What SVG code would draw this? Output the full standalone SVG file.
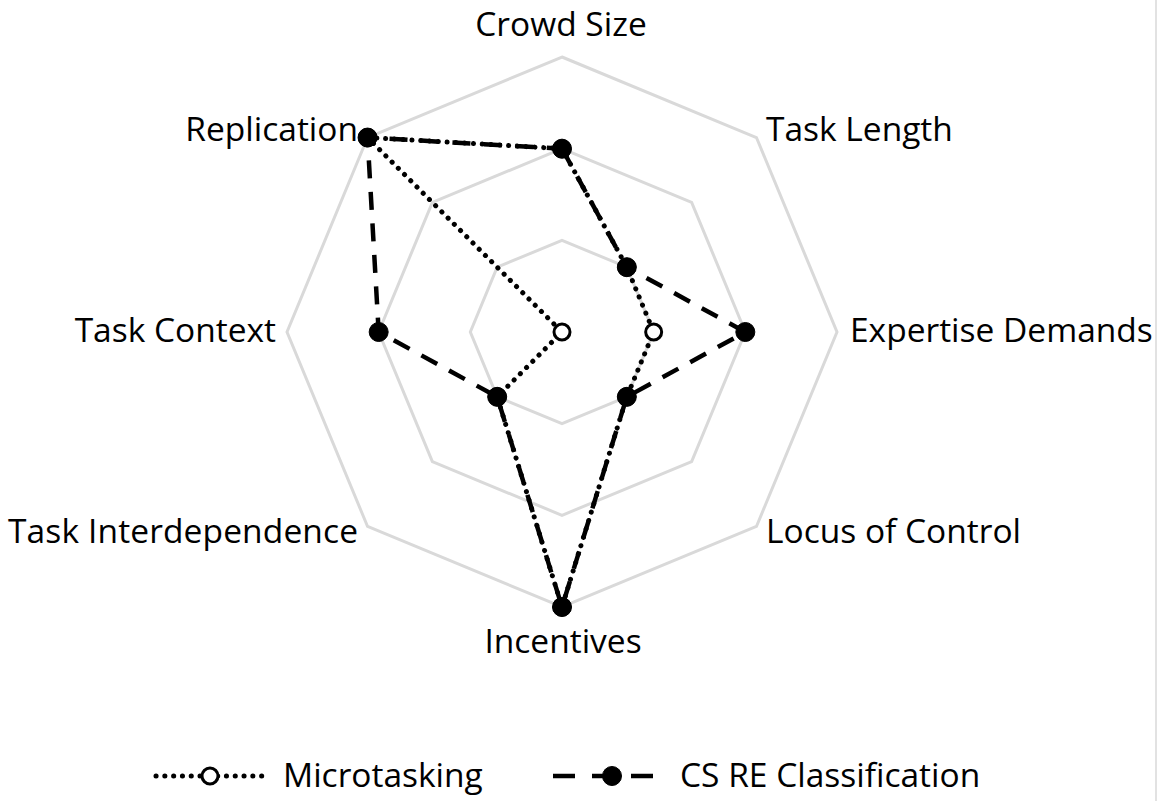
<svg xmlns="http://www.w3.org/2000/svg" width="1157" height="801" viewBox="0 0 1157 801">
  <style>
    .ring { fill: none; stroke: #d9d9d9; stroke-width: 3; stroke-linejoin: miter; }
    .lbl { font-family: "Open Sans", "Noto Sans", "Liberation Sans", sans-serif; font-size: 33.5px; fill: #000; }
    .dot { fill: none; stroke: #000; stroke-width: 5; stroke-linecap: round; stroke-dasharray: 0.1 8.7; stroke-linejoin: round; }
    .dash { fill: none; stroke: #000; stroke-width: 4.5; stroke-linecap: butt; stroke-dasharray: 18 13.5; stroke-linejoin: round; }
    .mOpen { fill: #fff; stroke: #000; stroke-width: 3; }
    .mFill { fill: #000; stroke: #000; stroke-width: 1; }
  </style>
  <rect x="0" y="0" width="1157" height="801" fill="#fff"/>
  <line x1="1156" y1="0" x2="1156" y2="801" stroke="#d9d9d9" stroke-width="1.5"/>

  <g id="grid">
    <polygon class="ring" points="562,240.33 626.82,267.18 653.67,332 626.82,396.82 562,423.67 497.18,396.82 470.33,332 497.18,267.18"/>
    <polygon class="ring" points="562,148.67 691.64,202.36 745.33,332 691.64,461.64 562,515.33 432.36,461.64 378.67,332 432.36,202.36"/>
    <polygon class="ring" points="562,57 756.45,137.55 837,332 756.45,526.45 562,607 367.55,526.45 287,332 367.55,137.55"/>
  </g>

  <g id="axis-labels">
    <text id="lbl-crowd-size" class="lbl" x="561" y="36" text-anchor="middle">Crowd Size</text>
    <text id="lbl-task-length" class="lbl" x="766" y="141">Task Length</text>
    <text id="lbl-expertise" class="lbl" x="850" y="342">Expertise Demands</text>
    <text id="lbl-locus" class="lbl" x="766" y="543">Locus of Control</text>
    <text id="lbl-incentives" class="lbl" x="563" y="653" text-anchor="middle">Incentives</text>
    <text id="lbl-interdependence" class="lbl" x="358" y="543" text-anchor="end" textLength="350" lengthAdjust="spacing">Task Interdependence</text>
    <text id="lbl-context" class="lbl" x="276" y="342" text-anchor="end">Task Context</text>
    <text id="lbl-replication" class="lbl" x="358" y="141" text-anchor="end">Replication</text>
  </g>

  <g id="connectors">
    <polygon id="series-microtasking" class="dot" points="562,148.67 626.82,267.18 653.67,332 626.82,396.82 562,607 497.18,396.82 562,332 367.55,137.55"/>
    <polygon id="series-csre" class="dash" points="562,148.67 626.82,267.18 745.33,332 626.82,396.82 562,607 497.18,396.82 378.67,332 367.55,137.55"/>
  </g>

  <g id="markers-microtasking">
    <circle class="mOpen" cx="562" cy="148.67" r="8"/>
    <circle class="mOpen" cx="626.82" cy="267.18" r="8"/>
    <circle class="mOpen" cx="653.67" cy="332" r="8"/>
    <circle class="mOpen" cx="626.82" cy="396.82" r="8"/>
    <circle class="mOpen" cx="562" cy="607" r="8"/>
    <circle class="mOpen" cx="497.18" cy="396.82" r="8"/>
    <circle class="mOpen" cx="562" cy="332" r="8"/>
    <circle class="mOpen" cx="367.55" cy="137.55" r="8"/>
  </g>

  <g id="markers-csre">
    <circle class="mFill" cx="562" cy="148.67" r="9.5"/>
    <circle class="mFill" cx="626.82" cy="267.18" r="9.5"/>
    <circle class="mFill" cx="745.33" cy="332" r="9.5"/>
    <circle class="mFill" cx="626.82" cy="396.82" r="9.5"/>
    <circle class="mFill" cx="562" cy="607" r="9.5"/>
    <circle class="mFill" cx="497.18" cy="396.82" r="9.5"/>
    <circle class="mFill" cx="378.67" cy="332" r="9.5"/>
    <circle class="mFill" cx="367.55" cy="137.55" r="9.5"/>
  </g>

  <g id="legend">
    <g id="legend-microtasking">
      <line class="dot" x1="156" y1="776" x2="265" y2="776"/>
      <circle class="mOpen" cx="210" cy="776" r="8"/>
      <text class="lbl" x="283" y="787">Microtasking</text>
    </g>
    <g id="legend-csre">
      <line class="dash" x1="553" y1="776" x2="653" y2="776" style="stroke-dasharray: 22 17"/>
      <circle class="mFill" cx="612" cy="776" r="9.5"/>
      <text class="lbl" x="680" y="787">CS RE Classification</text>
    </g>
  </g>
</svg>
